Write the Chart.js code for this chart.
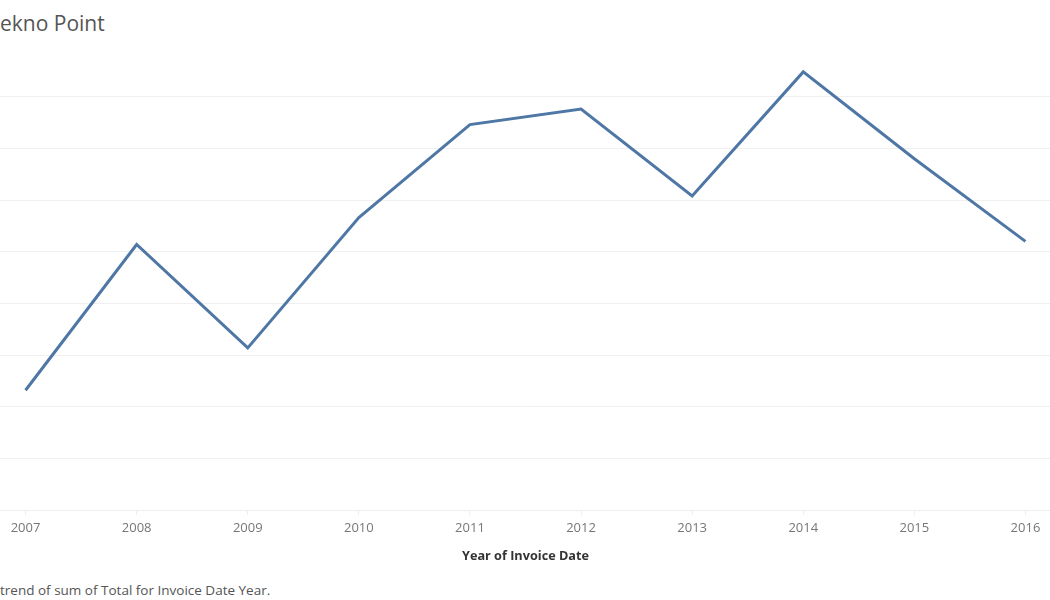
<!DOCTYPE html>
<html>
<head>
<meta charset="utf-8">
<script src="https://cdn.jsdelivr.net/npm/chart.js@4.4.1/dist/chart.umd.min.js"></script>
<style>
  html, body { margin: 0; padding: 0; background: #fff; overflow: hidden; }
  body { width: 1050px; height: 600px; position: relative; }
  #title {
    position: absolute; left: 0; top: 9px;
    font-family: "Open Sans", sans-serif; font-size: 21px; color: #555;
  }
  #caption {
    position: absolute; left: 0; top: 581px;
    font-family: "Open Sans", sans-serif; font-size: 13.5px; color: #555;
  }
  #wrap { position: absolute; left: -30px; top: 0; width: 1111px; height: 564px; }
</style>
</head>
<body>
<div id="title">ekno Point</div>
<div id="wrap"><canvas id="chart"></canvas></div>
<div id="caption">trend of sum of Total for Invoice Date Year.</div>
<script>
"use strict";

// values (y axis labels are cropped, gridline step = 50)
var years = ['2007', '2008', '2009', '2010', '2011', '2012', '2013', '2014', '2015', '2016'];
var totals = [116, 257, 157, 283, 373, 388, 304, 424, 340, 260];
var yMax = 450;
var yStep = 50;

new Chart(document.getElementById('chart'), {
    type: 'line',
    data: {
        labels: years,
        datasets: [{
            label: 'Total',
            data: totals,
            borderColor: '#4e77a5',
            borderWidth: 3,
            pointRadius: 0,
            tension: 0,
            fill: false
        }]
    },
    options: {
        responsive: true,
        maintainAspectRatio: false,
        animation: false,
        layout: { padding: { top: 45, left: 0, right: 0, bottom: 0 } },
        plugins: {
            legend: { display: false },
            tooltip: { enabled: false }
        },
        scales: {
            x: {
                offset: true,
                grid: {
                    offset: false,
                    drawOnChartArea: false,
                    drawTicks: true,
                    tickLength: 5,
                    color: '#eeeeee'
                },
                border: { display: true, color: '#eeeeee' },
                ticks: {
                    padding: 5,
                    color: '#777',
                    font: { family: '"Open Sans", sans-serif', size: 13 }
                },
                title: {
                    display: true,
                    text: 'Year of Invoice Date',
                    color: '#333',
                    padding: { top: 8, bottom: 0 },
                    font: { family: '"Open Sans", sans-serif', size: 12.7, weight: 'bold' }
                }
            },
            y: {
                min: 0,
                max: yMax,
                ticks: { display: false, stepSize: yStep },
                border: { display: false },
                grid: {
                    drawTicks: false,
                    color: function (ctx) {
                        return ctx.tick && ctx.tick.value >= yMax ? 'rgba(0,0,0,0)' : '#f0f0f0';
                    }
                }
            }
        }
    }
});
</script>
</body>
</html>
